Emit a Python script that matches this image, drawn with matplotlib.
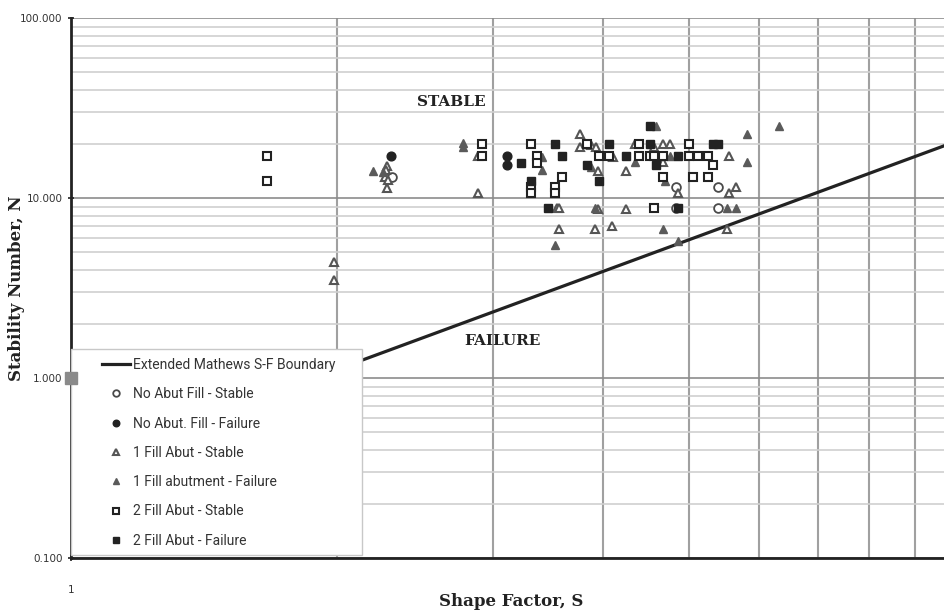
import numpy as np
import matplotlib
matplotlib.use("Agg")
import matplotlib.pyplot as plt
from matplotlib.patches import Rectangle
from matplotlib.ticker import FixedLocator, NullFormatter, FuncFormatter

# Extended Mathews stability boundary
line_s = [1.0, 10.0]
line_n = [0.32, 20.6]

# No abutment fill
noab_stable_s = [2.305, 4.835, 4.835, 5.40, 5.40]
noab_stable_n = [13.2, 11.5, 8.8, 11.5, 8.8]
noab_fail_s = [2.30, 3.11, 3.11]
noab_fail_n = [17.2, 17.2, 15.4]

# 1 fill abutment
one_stable_s = [1.986, 1.986, 2.276, 2.27, 2.266, 2.285, 2.276, 2.884, 2.884,
                3.546, 3.565, 3.565, 3.766, 3.766, 3.875, 3.926, 3.941, 3.941,
                3.916, 4.089, 4.103, 4.25, 4.25, 4.34, 4.57, 4.668, 4.76,
                4.668, 4.854, 5.554, 5.554, 5.647, 5.525]
one_stable_n = [4.41, 3.52, 15.1, 14.4, 13.2, 12.6, 11.4, 17.2, 10.7,
                8.8, 8.8, 6.75, 22.9, 19.3, 19.8, 19.3, 14.2, 8.7,
                6.75, 7.05, 17.0, 8.7, 14.2, 20.1, 19.2, 20.1, 20.1,
                16.0, 10.7, 17.2, 10.7, 11.5, 6.75]
one_fail_s = [2.198, 2.256, 2.779, 2.779, 3.413, 3.413, 3.53, 3.875, 3.916,
              4.34, 4.584, 4.698, 4.668, 4.76, 4.854, 5.525, 5.647, 5.812,
              5.812, 6.319]
one_fail_n = [14.2, 14.05, 20.2, 19.3, 17.0, 14.4, 5.5, 15.0, 8.8,
              16.0, 25.2, 12.4, 6.75, 17.1, 5.79, 8.85, 8.85, 22.9,
              16.0, 25.3]

# 2 fill abutment
two_stable_s = [1.668, 1.668, 2.917, 2.917, 3.314, 3.369, 3.369, 3.314, 3.314,
                3.528, 3.528, 3.589, 3.83, 3.959, 4.063, 4.385, 4.385, 4.519,
                4.56, 4.677, 4.56, 4.677, 5.002, 5.002, 5.126, 5.262, 5.328,
                5.058, 5.262]
two_stable_n = [17.2, 12.4, 20.1, 17.2, 20.1, 17.2, 15.8, 11.6, 10.7,
                11.6, 10.7, 13.2, 20.1, 17.2, 17.2, 20.1, 17.2, 17.2,
                17.2, 17.2, 8.8, 13.2, 20.1, 17.2, 17.2, 17.2, 15.3,
                13.2, 13.2]
two_fail_s = [3.228, 3.528, 3.589, 3.314, 3.464, 3.83, 3.959, 4.063, 4.25,
              4.519, 4.519, 4.584, 4.854, 4.864, 5.328, 5.389]
two_fail_n = [15.8, 20.1, 17.2, 12.5, 8.8, 15.3, 12.5, 20.1, 17.2,
              25.3, 20.1, 15.3, 17.2, 8.8, 20.1, 20.1]

W, H = 945, 612
fig = plt.figure(figsize=(9.45, 6.12), dpi=100)
ax = fig.add_axes([71 / W, 53.7 / H, 884 / W, 540 / H])
ax.set_xscale("log")
ax.set_yscale("log")
ax.set_xlim(1, 10)
ax.set_ylim(0.1, 100)

# grid
ax.yaxis.set_major_locator(FixedLocator([0.1, 1, 10, 100]))
ax.yaxis.set_minor_locator(FixedLocator([m * d for d in [0.1, 1, 10] for m in range(2, 10)]))
ax.xaxis.set_major_locator(FixedLocator([1, 10]))
ax.xaxis.set_minor_locator(FixedLocator(list(range(2, 10))))
ax.yaxis.set_minor_formatter(NullFormatter())
ax.xaxis.set_minor_formatter(NullFormatter())
ax.yaxis.set_major_formatter(FuncFormatter(lambda v, p: f"{v:.3f}"))
ax.xaxis.set_major_formatter(FuncFormatter(lambda v, p: f"{v:g}"))
ax.grid(True, which="minor", axis="y", color="#d0d0d0", lw=1.2)
ax.grid(True, which="major", axis="y", color="#8c8c8c", lw=1.2)
ax.grid(True, which="minor", axis="x", color="#a0a0a0", lw=1.5)
ax.set_axisbelow(True)
ax.tick_params(which="minor", length=0)
ax.tick_params(which="major", direction="inout", length=5, width=1.2, labelsize=7.5,
               color="#222222", labelcolor="#333333")
ax.tick_params(axis="x", which="major", pad=17)
for side in ["top", "right"]:
    ax.spines[side].set_visible(False)
for side in ["left", "bottom"]:
    ax.spines[side].set_linewidth(2)
    ax.spines[side].set_color("#222222")

ax.plot(line_s, line_n, color="#222222", lw=2.3, label="Extended Mathews S-F Boundary", zorder=3)
ms = 6.3
ax.plot(noab_stable_s, noab_stable_n, "o", ms=ms, mfc="white", mec="#4a4a4a", mew=1.3,
        label="No Abut Fill - Stable", zorder=4)
ax.plot(noab_fail_s, noab_fail_n, "o", ms=ms, mfc="#222222", mec="#222222",
        label="No Abut. Fill - Failure", zorder=4)
ax.plot(one_stable_s, one_stable_n, "^", ms=ms, mfc="white", mec="#555555", mew=1.5,
        label="1 Fill Abut - Stable", zorder=4)
ax.plot(one_fail_s, one_fail_n, "^", ms=ms, mfc="#5a5a5a", mec="#5a5a5a",
        label="1 Fill abutment - Failure", zorder=4)
ax.plot(two_stable_s, two_stable_n, "s", ms=ms, mfc="white", mec="#222222", mew=1.5,
        label="2 Fill Abut - Stable", zorder=4)
ax.plot(two_fail_s, two_fail_n, "s", ms=ms, mfc="#222222", mec="#222222",
        label="2 Fill Abut - Failure", zorder=4)

# legend box drawn separately so the padding matches
box = Rectangle((71 / W, 1 - 555 / H), 291 / W, 206 / H, transform=fig.transFigure,
                facecolor="white", edgecolor="#c8c8c8", lw=1, zorder=6, clip_on=False)
ax.add_patch(box)
leg = ax.legend(loc="upper left", bbox_to_anchor=(102 / W, 1 - 358 / H),
                bbox_transform=fig.transFigure, frameon=False, borderaxespad=0,
                borderpad=0, labelspacing=1.1, handlelength=2.0, handletextpad=0.25,
                markerscale=0.75,
                prop={"family": ["Roboto", "DejaVu Sans"], "size": 10})
leg.set_zorder(7)
for t in leg.get_texts():
    t.set_color("#333333")

# grey marker on the axis at (1, 1)
ax.plot([1], [1], "s", ms=8, color="#8a8a8a", clip_on=False, zorder=10)

ax.text(2.69, 34.4, "STABLE", family="DejaVu Serif", weight="bold", fontsize=11,
        ha="center", va="center", color="#222222")
ax.text(3.08, 1.61, "FAILURE", family="DejaVu Serif", weight="bold", fontsize=11,
        ha="center", va="center", color="#222222")

fig.text(511 / W, 1 - 601 / H, "Shape Factor, S", family="DejaVu Serif",
         weight="bold", fontsize=12, ha="center", va="center", color="#222222")
fig.text(17 / W, 1 - 288 / H, "Stability Number, N", family="DejaVu Serif",
         weight="bold", fontsize=12, ha="center", va="center", rotation=90, color="#222222")

fig.savefig("out.png", dpi=100)
